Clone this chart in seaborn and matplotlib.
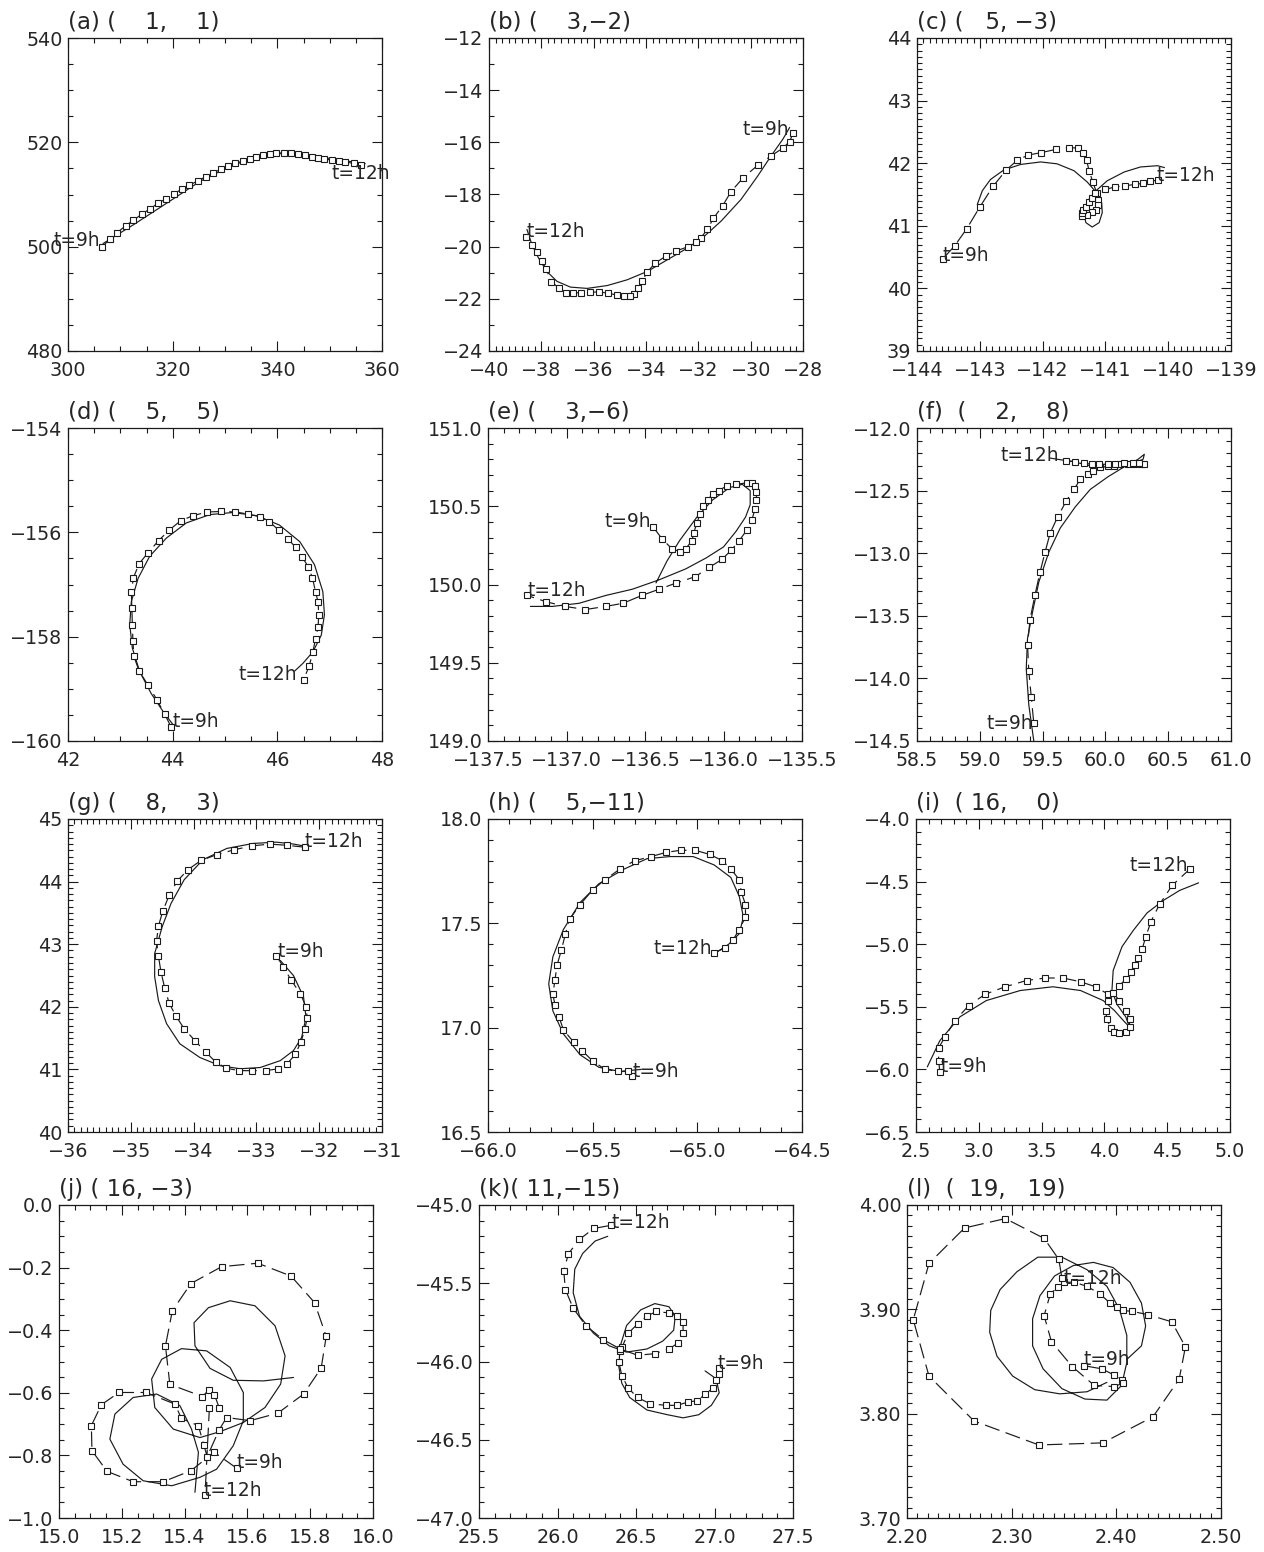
import matplotlib
matplotlib.use("Agg")
import matplotlib.pyplot as plt
import seaborn as sns
from matplotlib.ticker import MultipleLocator, FuncFormatter

# ---------------- data ----------------
titles = ["(a) (    1,    1)", "(b) (    3,\u22122)", "(c) (   5, \u22123)",
          "(d) (    5,    5)", "(e) (    3,\u22126)", "(f)  (    2,    8)",
          "(g) (    8,    3)", "(h) (    5,\u221211)", "(i)  ( 16,    0)",
          "(j) ( 16, \u22123)", "(k)( 11,\u221215)", "(l)  (  19,   19)"]

a_obs_x = [306.5,308.0,309.4,311.0,312.5,314.1,315.7,317.2,318.7,320.2,321.7,323.2,324.8,326.3,327.8,329.2,330.6,332.0,333.4,334.7,336.0,337.3,338.6,339.8,341.2,342.6,343.9,345.3,346.6,347.7,349.0,350.4,351.7,353.0,354.6,356.0]
a_obs_y = [500.0,501.4,502.7,504.0,505.1,506.2,507.3,508.3,509.2,510.1,511.0,511.8,512.6,513.4,514.2,514.8,515.4,516.0,516.4,516.8,517.2,517.6,517.8,517.9,518.0,517.9,517.8,517.5,517.2,517.0,516.8,516.6,516.4,516.2,516.0,515.7]
a_mod_x = [306.7,312.5,318.8,325.2,331.6,338.0,341.2,344.4,350.7,356.8]
a_mod_y = [500.6,504.2,508.3,512.5,515.7,517.6,517.9,517.8,516.8,515.9]

b_obs_x = [-28.38,-28.51,-28.77,-29.22,-29.73,-30.28,-30.75,-31.07,-31.43,-31.65,-31.90,-32.09,-32.41,-32.84,-33.25,-33.65,-33.95,-34.14,-34.31,-34.46,-34.63,-34.83,-35.11,-35.45,-35.79,-36.14,-36.47,-36.79,-37.06,-37.31,-37.62,-37.81,-37.99,-38.17,-38.36,-38.59]
b_obs_y = [-15.65,-15.97,-16.22,-16.52,-16.88,-17.35,-17.89,-18.43,-18.92,-19.34,-19.65,-19.84,-20.01,-20.16,-20.37,-20.63,-20.97,-21.31,-21.59,-21.81,-21.91,-21.91,-21.86,-21.78,-21.74,-21.74,-21.76,-21.78,-21.76,-21.59,-21.35,-20.86,-20.54,-20.22,-19.95,-19.63]
b_mod_x = [-28.51,-28.77,-29.22,-29.73,-30.37,-31.13,-31.77,-32.41,-33.18,-33.95,-34.72,-35.48,-36.25,-36.89,-37.40,-37.79,-38.11,-38.36,-38.55]
b_mod_y = [-15.43,-15.88,-16.52,-17.29,-18.19,-19.02,-19.60,-20.05,-20.50,-20.95,-21.27,-21.49,-21.60,-21.55,-21.33,-20.95,-20.43,-19.92,-19.34]

c_obs_x = [-143.59,-143.40,-143.21,-143.00,-142.79,-142.58,-142.40,-142.23,-142.02,-141.79,-141.58,-141.43,-141.36,-141.30,-141.26,-141.20,-141.14,-141.11,-141.12,-141.15,-141.22,-141.30,-141.37,-141.38,-141.35,-141.31,-141.26,-141.22,-141.17,-141.01,-140.85,-140.69,-140.53,-140.40,-140.29,-140.17]
c_obs_y = [40.47,40.68,40.95,41.30,41.63,41.89,42.05,42.13,42.17,42.22,42.25,42.24,42.16,42.05,41.88,41.70,41.53,41.42,41.33,41.26,41.22,41.18,41.16,41.20,41.25,41.30,41.38,41.45,41.52,41.58,41.62,41.64,41.66,41.68,41.71,41.73]
c_mod_x = [-143.04,-142.96,-142.83,-142.62,-142.35,-142.03,-141.77,-141.50,-141.29,-141.15,-141.06,-141.05,-141.10,-141.21,-141.31,-141.35,-141.28,-141.15,-140.97,-140.70,-140.44,-140.17,-140.06]
c_mod_y = [41.34,41.56,41.74,41.89,41.98,42.02,41.99,41.88,41.70,41.54,41.37,41.21,41.05,40.98,41.05,41.21,41.40,41.56,41.72,41.86,41.94,41.96,41.93]

d_obs_x = [43.97,43.85,43.70,43.53,43.36,43.26,43.24,43.23,43.22,43.21,43.25,43.36,43.53,43.73,43.93,44.15,44.39,44.66,44.93,45.20,45.44,45.66,45.85,46.03,46.20,46.35,46.48,46.59,46.67,46.73,46.78,46.79,46.78,46.73,46.68,46.61,46.50]
d_obs_y = [-159.73,-159.49,-159.21,-158.93,-158.66,-158.38,-158.09,-157.77,-157.45,-157.15,-156.87,-156.60,-156.39,-156.16,-155.96,-155.78,-155.68,-155.61,-155.60,-155.61,-155.65,-155.70,-155.80,-155.96,-156.12,-156.29,-156.48,-156.66,-156.87,-157.14,-157.34,-157.58,-157.81,-158.04,-158.29,-158.56,-158.83]
d_mod_x = [44.01,43.82,43.59,43.37,43.23,43.18,43.21,43.34,43.56,43.88,44.26,44.71,45.15,45.60,46.04,46.43,46.71,46.87,46.90,46.84,46.68,46.49,46.33]
d_mod_y = [-159.69,-159.44,-159.09,-158.67,-158.22,-157.77,-157.33,-156.88,-156.46,-156.11,-155.82,-155.66,-155.62,-155.68,-155.86,-156.18,-156.62,-157.14,-157.58,-157.97,-158.29,-158.51,-158.66]

e_obs_x = [-136.45,-136.39,-136.33,-136.28,-136.24,-136.20,-136.19,-136.17,-136.15,-136.13,-136.10,-136.07,-136.03,-135.98,-135.92,-135.85,-135.82,-135.80,-135.79,-135.79,-135.80,-135.82,-135.85,-135.90,-135.95,-136.01,-136.09,-136.18,-136.30,-136.41,-136.52,-136.64,-136.75,-136.88,-137.01,-137.13,-137.25]
e_obs_y = [150.37,150.29,150.23,150.21,150.23,150.28,150.33,150.39,150.45,150.50,150.54,150.58,150.60,150.63,150.64,150.65,150.65,150.63,150.59,150.54,150.48,150.41,150.35,150.28,150.22,150.16,150.11,150.05,150.01,149.97,149.93,149.88,149.86,149.84,149.86,149.89,149.93]
e_mod_x = [-136.43,-136.36,-136.28,-136.17,-136.07,-135.96,-135.88,-135.83,-135.83,-135.86,-135.92,-136.00,-136.11,-136.24,-136.41,-136.58,-136.75,-136.92,-137.09,-137.23]
e_mod_y = [150.01,150.15,150.28,150.43,150.54,150.62,150.64,150.60,150.51,150.43,150.34,150.24,150.17,150.10,150.03,149.97,149.93,149.88,149.86,149.86]

f_obs_x = [59.43,59.41,59.39,59.38,59.40,59.44,59.48,59.52,59.56,59.62,59.69,59.75,59.80,59.86,59.90,59.96,60.02,60.07,60.12,60.18,60.23,60.28,60.31,60.27,60.22,60.15,60.08,60.02,59.95,59.89,59.83,59.76,59.69]
f_obs_y = [-14.36,-14.15,-13.94,-13.73,-13.53,-13.33,-13.15,-12.99,-12.84,-12.71,-12.58,-12.49,-12.41,-12.37,-12.34,-12.31,-12.30,-12.30,-12.29,-12.29,-12.29,-12.29,-12.29,-12.28,-12.28,-12.28,-12.285,-12.29,-12.29,-12.29,-12.28,-12.27,-12.26]
f_mod_x = [59.43,59.39,59.37,59.38,59.42,59.47,59.55,59.64,59.76,59.88,60.02,60.15,60.26,60.31,60.30,60.20,60.07,59.91,59.75,59.62,59.56]
f_mod_y = [-14.50,-14.21,-13.92,-13.68,-13.47,-13.23,-12.99,-12.80,-12.63,-12.49,-12.39,-12.31,-12.25,-12.21,-12.25,-12.29,-12.31,-12.31,-12.27,-12.25,-12.24]

g_obs_x = [-32.68,-32.57,-32.45,-32.30,-32.21,-32.19,-32.23,-32.29,-32.38,-32.51,-32.65,-32.85,-33.07,-33.28,-33.48,-33.65,-33.81,-33.98,-34.15,-34.28,-34.39,-34.46,-34.52,-34.56,-34.59,-34.56,-34.49,-34.39,-34.26,-34.09,-33.88,-33.63,-33.35,-33.07,-32.79,-32.52,-32.23]
g_obs_y = [42.81,42.64,42.43,42.21,42.00,41.82,41.64,41.44,41.24,41.09,41.01,40.98,40.98,40.98,41.02,41.12,41.28,41.46,41.65,41.85,42.06,42.30,42.56,42.81,43.05,43.29,43.53,43.78,44.01,44.19,44.34,44.43,44.51,44.57,44.60,44.58,44.55]
g_mod_x = [-32.62,-32.41,-32.25,-32.21,-32.28,-32.41,-32.62,-32.94,-33.26,-33.58,-33.90,-34.22,-34.43,-34.56,-34.62,-34.62,-34.50,-34.36,-34.15,-33.85,-33.47,-33.05,-32.68,-32.41,-32.25]
g_mod_y = [42.74,42.50,42.16,41.83,41.51,41.30,41.14,41.03,41.01,41.06,41.19,41.41,41.73,42.10,42.48,42.85,43.28,43.65,44.03,44.35,44.53,44.61,44.63,44.60,44.57]

h_obs_x = [-65.31,-65.33,-65.38,-65.44,-65.50,-65.55,-65.59,-65.64,-65.66,-65.68,-65.69,-65.68,-65.67,-65.65,-65.63,-65.61,-65.56,-65.50,-65.44,-65.37,-65.30,-65.22,-65.15,-65.08,-65.01,-64.94,-64.88,-64.84,-64.80,-64.79,-64.77,-64.77,-64.80,-64.83,-64.87,-64.92]
h_obs_y = [16.77,16.79,16.79,16.80,16.84,16.89,16.93,16.99,17.05,17.11,17.16,17.23,17.30,17.37,17.45,17.52,17.59,17.66,17.71,17.76,17.80,17.82,17.84,17.85,17.85,17.83,17.80,17.76,17.71,17.65,17.59,17.53,17.47,17.42,17.38,17.36]
h_mod_x = [-65.27,-65.37,-65.47,-65.56,-65.64,-65.69,-65.71,-65.69,-65.64,-65.56,-65.47,-65.35,-65.24,-65.13,-65.02,-64.92,-64.84,-64.80,-64.78,-64.80,-64.85,-64.91]
h_mod_y = [16.80,16.79,16.81,16.87,16.97,17.08,17.21,17.34,17.47,17.60,17.69,17.76,17.81,17.82,17.82,17.78,17.72,17.63,17.53,17.45,17.40,17.36]

i_obs_x = [2.69,2.68,2.68,2.73,2.81,2.92,3.05,3.21,3.38,3.53,3.67,3.81,3.93,4.03,4.03,4.01,4.02,4.05,4.08,4.12,4.17,4.20,4.20,4.17,4.12,4.07,4.12,4.17,4.21,4.24,4.27,4.30,4.33,4.37,4.44,4.54,4.68]
i_obs_y = [-6.02,-5.93,-5.83,-5.74,-5.61,-5.49,-5.40,-5.34,-5.29,-5.27,-5.27,-5.30,-5.34,-5.40,-5.45,-5.53,-5.60,-5.67,-5.70,-5.71,-5.70,-5.66,-5.60,-5.53,-5.45,-5.39,-5.33,-5.28,-5.22,-5.17,-5.11,-5.04,-4.94,-4.82,-4.68,-4.53,-4.40]
i_mod_x = [2.59,2.69,2.85,3.06,3.33,3.59,3.81,3.99,4.08,4.16,4.20,4.17,4.10,4.06,4.07,4.14,4.23,4.34,4.47,4.60,4.75]
i_mod_y = [-5.98,-5.77,-5.58,-5.45,-5.37,-5.34,-5.37,-5.45,-5.53,-5.62,-5.66,-5.58,-5.48,-5.37,-5.21,-5.02,-4.89,-4.75,-4.65,-4.57,-4.51]

j_obs_x = [15.566,15.494,15.420,15.332,15.236,15.153,15.105,15.103,15.135,15.191,15.277,15.369,15.390,15.444,15.461,15.472,15.510,15.534,15.609,15.697,15.779,15.835,15.851,15.814,15.739,15.633,15.518,15.420,15.361,15.339,15.353,15.457,15.478,15.495,15.511,15.479,15.465]
j_obs_y = [-0.841,-0.790,-0.849,-0.884,-0.884,-0.851,-0.785,-0.705,-0.638,-0.599,-0.599,-0.636,-0.682,-0.705,-0.766,-0.804,-0.718,-0.679,-0.689,-0.665,-0.604,-0.521,-0.420,-0.312,-0.227,-0.186,-0.197,-0.251,-0.338,-0.450,-0.573,-0.612,-0.590,-0.606,-0.650,-0.647,-0.927]
j_mod_x = [15.747,15.651,15.555,15.481,15.433,15.430,15.476,15.545,15.624,15.688,15.720,15.706,15.656,15.587,15.513,15.449,15.364,15.305,15.295,15.327,15.390,15.470,15.545,15.587,15.587,15.555,15.502,15.449,15.359,15.268,15.204,15.162,15.178,15.236,15.311,15.385,15.422,15.444,15.433]
j_mod_y = [-0.551,-0.562,-0.560,-0.522,-0.450,-0.376,-0.328,-0.306,-0.322,-0.386,-0.482,-0.572,-0.647,-0.695,-0.724,-0.743,-0.716,-0.647,-0.556,-0.493,-0.459,-0.466,-0.519,-0.599,-0.689,-0.769,-0.844,-0.870,-0.897,-0.881,-0.828,-0.748,-0.668,-0.615,-0.604,-0.641,-0.716,-0.790,-0.918]

k_obs_x = [27.03,27.03,27.01,26.99,26.94,26.89,26.83,26.76,26.69,26.59,26.51,26.45,26.41,26.39,26.40,26.41,26.45,26.51,26.57,26.63,26.71,26.76,26.80,26.80,26.77,26.71,26.62,26.51,26.40,26.29,26.18,26.10,26.05,26.04,26.07,26.14,26.23,26.34]
k_obs_y = [-46.04,-46.08,-46.12,-46.17,-46.21,-46.25,-46.26,-46.28,-46.28,-46.27,-46.23,-46.17,-46.09,-46.00,-45.93,-45.91,-45.82,-45.76,-45.71,-45.68,-45.69,-45.71,-45.75,-45.82,-45.88,-45.92,-45.95,-45.96,-45.92,-45.86,-45.77,-45.66,-45.54,-45.42,-45.31,-45.22,-45.15,-45.13]
k_mod_x = [26.94,27.01,27.03,26.98,26.90,26.80,26.70,26.57,26.46,26.41,26.39,26.40,26.44,26.53,26.62,26.71,26.75,26.74,26.67,26.57,26.44,26.33,26.23,26.14,26.10,26.11,26.16,26.24,26.32]
k_mod_y = [-46.06,-46.11,-46.20,-46.28,-46.34,-46.36,-46.34,-46.31,-46.23,-46.14,-46.03,-45.90,-45.77,-45.67,-45.63,-45.65,-45.71,-45.80,-45.87,-45.92,-45.94,-45.90,-45.82,-45.71,-45.56,-45.41,-45.31,-45.23,-45.20]

l_obs_x = [2.369,2.386,2.398,2.405,2.406,2.398,2.379,2.358,2.338,2.331,2.337,2.344,2.350,2.360,2.372,2.384,2.394,2.401,2.406,2.415,2.430,2.453,2.466,2.460,2.435,2.387,2.326,2.264,2.221,2.206,2.221,2.255,2.294,2.331,2.345,2.348]
l_obs_y = [3.846,3.843,3.837,3.832,3.829,3.826,3.827,3.845,3.869,3.894,3.915,3.921,3.926,3.926,3.922,3.915,3.906,3.902,3.899,3.898,3.895,3.888,3.864,3.833,3.797,3.772,3.770,3.793,3.836,3.890,3.944,3.978,3.987,3.968,3.948,3.930]
l_mod_x = [2.410,2.424,2.428,2.424,2.413,2.397,2.378,2.359,2.341,2.327,2.320,2.320,2.330,2.348,2.370,2.391,2.405,2.410,2.410,2.403,2.391,2.372,2.348,2.325,2.305,2.289,2.280,2.279,2.286,2.301,2.322,2.346,2.372,2.391]
l_mod_y = [3.852,3.865,3.884,3.906,3.926,3.940,3.945,3.942,3.932,3.913,3.891,3.865,3.843,3.824,3.814,3.813,3.827,3.849,3.875,3.900,3.922,3.938,3.950,3.950,3.936,3.919,3.899,3.878,3.855,3.836,3.823,3.819,3.821,3.830]

# annotation anchor points (t=9h, t=12h)
label9_xy = [(301.7, 501.2), (-29.41, -15.49), (-143.23, 40.53), (44.44, -159.63),
             (-136.61, 150.40), (59.24, -14.36), (-32.30, 42.89), (-65.20, 16.79),
             (2.88, -5.98), (15.640, -0.824), (27.17, -46.01), (2.391, 3.852)]
label12_xy = [(355.9, 514.1), (-37.44, -19.41), (-139.72, 41.81), (45.82, -158.73),
              (-137.06, 149.96), (59.40, -12.22), (-31.76, 44.64), (-65.07, 17.38),
              (4.43, -4.37), (15.555, -0.913), (26.53, -45.11), (2.378, 3.930)]

# axis ranges and ticks
xlims = [(300, 360), (-40, -28), (-144, -139), (42, 48), (-137.5, -135.5), (58.5, 61),
         (-36, -31), (-66, -64.5), (2.5, 5), (15, 16), (25.5, 27.5), (2.2, 2.5)]
ylims = [(480, 540), (-24, -12), (39, 44), (-160, -154), (149, 151), (-14.5, -12),
         (40, 45), (16.5, 18), (-6.5, -4), (-1, 0), (-47, -45), (3.7, 4.0)]
x_major = [20, 2, 1, 2, 0.5, 0.5, 1, 0.5, 0.5, 0.2, 0.5, 0.1]
x_minor = [5, 0.25, 0.1, 0.5, 0.1, 0.1, 0.1, 0.1, 0.1, 0.05, 0.1, 0.01]
y_major = [20, 2, 1, 2, 0.5, 0.5, 1, 0.5, 0.5, 0.2, 0.5, 0.1]
y_minor = [5, 1, 0.1, 0.5, 0.1, 0.1, 0.1, 0.1, 0.1, 0.05, 0.1, 0.01]
x_fmt = ['%d', '%d', '%d', '%d', '%.1f', '%.1f', '%d', '%.1f', '%.1f', '%.1f', '%.1f', '%.2f']
y_fmt = ['%d', '%d', '%d', '%d', '%.1f', '%.1f', '%d', '%.1f', '%.1f', '%.1f', '%.1f', '%.2f']

obs_series = [(a_obs_x, a_obs_y), (b_obs_x, b_obs_y), (c_obs_x, c_obs_y), (d_obs_x, d_obs_y),
              (e_obs_x, e_obs_y), (f_obs_x, f_obs_y), (g_obs_x, g_obs_y), (h_obs_x, h_obs_y),
              (i_obs_x, i_obs_y), (j_obs_x, j_obs_y), (k_obs_x, k_obs_y), (l_obs_x, l_obs_y)]
mod_series = [(a_mod_x, a_mod_y), (b_mod_x, b_mod_y), (c_mod_x, c_mod_y), (d_mod_x, d_mod_y),
              (e_mod_x, e_mod_y), (f_mod_x, f_mod_y), (g_mod_x, g_mod_y), (h_mod_x, h_mod_y),
              (i_mod_x, i_mod_y), (j_mod_x, j_mod_y), (k_mod_x, k_mod_y), (l_mod_x, l_mod_y)]

# ---------------- style ----------------
sns.set_theme(style="ticks")
plt.rcParams['font.family'] = ['DejaVu Sans']
plt.rcParams['axes.unicode_minus'] = True
INK = '#1a1a1a'
TXT = '#262626'

W, H = 1264, 1552
fig = plt.figure(figsize=(W / 100, H / 100), dpi=100)
fig.patch.set_facecolor('white')

row_tops = [38, 428, 819, 1205]
col_lefts = [[68, 489, 917], [68, 488, 917], [68, 488, 916], [59, 479, 907]]
AW, AH = 314, 313


def make_fmt(fmt):
    def f(v, pos):
        if abs(v) < 1e-9:
            v = 0.0
        return (fmt % v).replace('-', '\u2212')
    return FuncFormatter(f)


for idx in range(12):
    r, c = divmod(idx, 3)
    left = col_lefts[r][c]
    top = row_tops[r]
    ax = fig.add_axes([left / W, 1 - (top + AH) / H, AW / W, AH / H])
    ax.set_facecolor('white')

    mx, my = mod_series[idx]
    sns.lineplot(x=mx, y=my, sort=False, estimator=None, ax=ax,
                 color=INK, linewidth=0.85, linestyle='-')
    ox, oy = obs_series[idx]
    sns.lineplot(x=ox, y=oy, sort=False, estimator=None, ax=ax,
                 color=INK, linewidth=0.85, linestyle=(0, (13, 5.5)),
                 marker='s', markersize=3.8, markerfacecolor='white',
                 markeredgecolor=INK, markeredgewidth=0.8)

    ax.set_xlim(*xlims[idx])
    ax.set_ylim(*ylims[idx])
    ax.xaxis.set_major_locator(MultipleLocator(x_major[idx]))
    ax.xaxis.set_minor_locator(MultipleLocator(x_minor[idx]))
    ax.yaxis.set_major_locator(MultipleLocator(y_major[idx]))
    ax.yaxis.set_minor_locator(MultipleLocator(y_minor[idx]))
    ax.xaxis.set_major_formatter(make_fmt(x_fmt[idx]))
    ax.yaxis.set_major_formatter(make_fmt(y_fmt[idx]))
    ax.tick_params(which='both', direction='in', top=True, right=True,
                   color=INK, width=0.8)
    ax.tick_params(which='major', length=7, labelsize=13.8, labelcolor=TXT)
    ax.tick_params(which='minor', length=3.6)
    ax.tick_params(axis='x', which='major', pad=7.5)
    ax.tick_params(axis='y', which='major', pad=4)
    for sp in ax.spines.values():
        sp.set_visible(True)
        sp.set_color(INK)
        sp.set_linewidth(0.9)
    ax.set_xlabel('')
    ax.set_ylabel('')

    ax.text(0.0, 1.012, titles[idx], transform=ax.transAxes, ha='left', va='bottom',
            fontsize=16.5, color=TXT)
    x9, y9 = label9_xy[idx]
    x12, y12 = label12_xy[idx]
    ax.text(x9, y9, 't=9h', ha='center', va='center', fontsize=13.4, color=TXT)
    ax.text(x12, y12, 't=12h', ha='center', va='center', fontsize=13.4, color=TXT)

fig.savefig('out.png', dpi=100, facecolor='white')
